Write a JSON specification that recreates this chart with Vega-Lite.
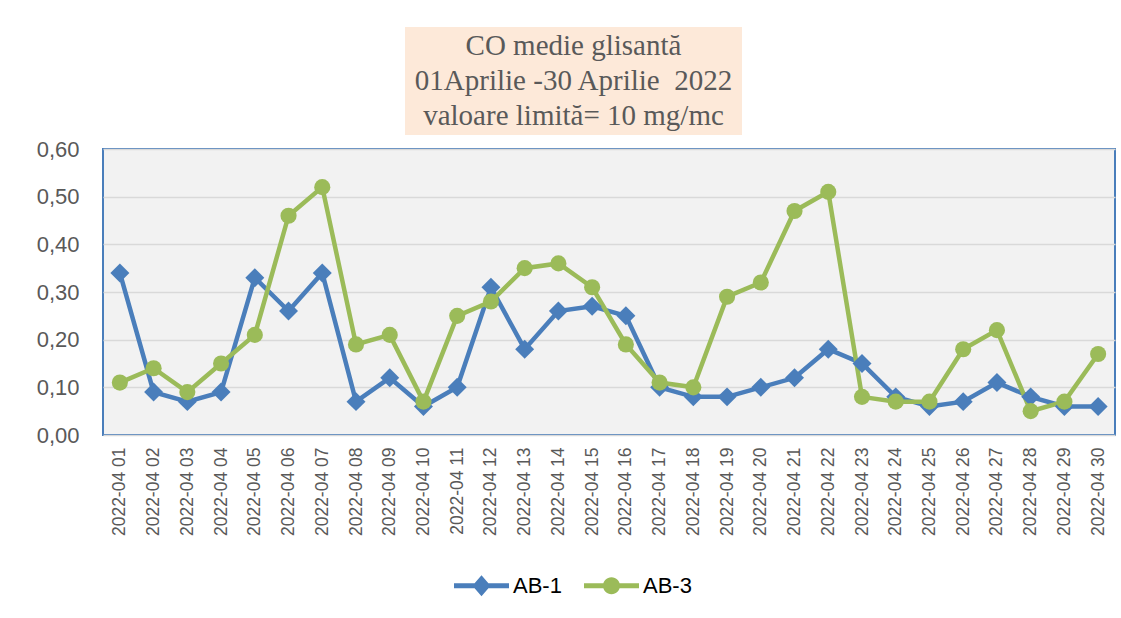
{
  "$schema": "https://vega.github.io/schema/vega-lite/v6.json",
  "background": "white",
  "padding": {"left": 35, "top": 27, "right": 5, "bottom": 5},
  "bounds": "full",
  "center": true,
  "spacing": 2,
  "config": {"font": "Liberation Sans"},
  "datasets": {
    "title": [
      {"i": 1, "t": "CO medie glisantă"},
      {"i": 2, "t": "01Aprilie -30 Aprilie\u00a0 2022"},
      {"i": 3, "t": "valoare limită= 10 mg/mc"}
    ],
    "co": [
      {"date": "2022-04 01", "series": "AB-1", "value": 0.34},
      {"date": "2022-04 02", "series": "AB-1", "value": 0.09},
      {"date": "2022-04 03", "series": "AB-1", "value": 0.07},
      {"date": "2022-04 04", "series": "AB-1", "value": 0.09},
      {"date": "2022-04 05", "series": "AB-1", "value": 0.33},
      {"date": "2022-04 06", "series": "AB-1", "value": 0.26},
      {"date": "2022-04 07", "series": "AB-1", "value": 0.34},
      {"date": "2022-04 08", "series": "AB-1", "value": 0.07},
      {"date": "2022-04 09", "series": "AB-1", "value": 0.12},
      {"date": "2022-04 10", "series": "AB-1", "value": 0.06},
      {"date": "2022-04 11", "series": "AB-1", "value": 0.10},
      {"date": "2022-04 12", "series": "AB-1", "value": 0.31},
      {"date": "2022-04 13", "series": "AB-1", "value": 0.18},
      {"date": "2022-04 14", "series": "AB-1", "value": 0.26},
      {"date": "2022-04 15", "series": "AB-1", "value": 0.27},
      {"date": "2022-04 16", "series": "AB-1", "value": 0.25},
      {"date": "2022-04 17", "series": "AB-1", "value": 0.10},
      {"date": "2022-04 18", "series": "AB-1", "value": 0.08},
      {"date": "2022-04 19", "series": "AB-1", "value": 0.08},
      {"date": "2022-04 20", "series": "AB-1", "value": 0.10},
      {"date": "2022-04 21", "series": "AB-1", "value": 0.12},
      {"date": "2022-04 22", "series": "AB-1", "value": 0.18},
      {"date": "2022-04 23", "series": "AB-1", "value": 0.15},
      {"date": "2022-04 24", "series": "AB-1", "value": 0.08},
      {"date": "2022-04 25", "series": "AB-1", "value": 0.06},
      {"date": "2022-04 26", "series": "AB-1", "value": 0.07},
      {"date": "2022-04 27", "series": "AB-1", "value": 0.11},
      {"date": "2022-04 28", "series": "AB-1", "value": 0.08},
      {"date": "2022-04 29", "series": "AB-1", "value": 0.06},
      {"date": "2022-04 30", "series": "AB-1", "value": 0.06},
      {"date": "2022-04 01", "series": "AB-3", "value": 0.11},
      {"date": "2022-04 02", "series": "AB-3", "value": 0.14},
      {"date": "2022-04 03", "series": "AB-3", "value": 0.09},
      {"date": "2022-04 04", "series": "AB-3", "value": 0.15},
      {"date": "2022-04 05", "series": "AB-3", "value": 0.21},
      {"date": "2022-04 06", "series": "AB-3", "value": 0.46},
      {"date": "2022-04 07", "series": "AB-3", "value": 0.52},
      {"date": "2022-04 08", "series": "AB-3", "value": 0.19},
      {"date": "2022-04 09", "series": "AB-3", "value": 0.21},
      {"date": "2022-04 10", "series": "AB-3", "value": 0.07},
      {"date": "2022-04 11", "series": "AB-3", "value": 0.25},
      {"date": "2022-04 12", "series": "AB-3", "value": 0.28},
      {"date": "2022-04 13", "series": "AB-3", "value": 0.35},
      {"date": "2022-04 14", "series": "AB-3", "value": 0.36},
      {"date": "2022-04 15", "series": "AB-3", "value": 0.31},
      {"date": "2022-04 16", "series": "AB-3", "value": 0.19},
      {"date": "2022-04 17", "series": "AB-3", "value": 0.11},
      {"date": "2022-04 18", "series": "AB-3", "value": 0.10},
      {"date": "2022-04 19", "series": "AB-3", "value": 0.29},
      {"date": "2022-04 20", "series": "AB-3", "value": 0.32},
      {"date": "2022-04 21", "series": "AB-3", "value": 0.47},
      {"date": "2022-04 22", "series": "AB-3", "value": 0.51},
      {"date": "2022-04 23", "series": "AB-3", "value": 0.08},
      {"date": "2022-04 24", "series": "AB-3", "value": 0.07},
      {"date": "2022-04 25", "series": "AB-3", "value": 0.07},
      {"date": "2022-04 26", "series": "AB-3", "value": 0.18},
      {"date": "2022-04 27", "series": "AB-3", "value": 0.22},
      {"date": "2022-04 28", "series": "AB-3", "value": 0.05},
      {"date": "2022-04 29", "series": "AB-3", "value": 0.07},
      {"date": "2022-04 30", "series": "AB-3", "value": 0.17}
    ]
  },
  "vconcat": [
    {
      "width": 337,
      "height": 108,
      "view": {"fill": "#FDE9D9", "stroke": null},
      "data": {"name": "title"},
      "mark": {"type": "text", "font": "Liberation Serif", "fontSize": 29, "color": "#595959"},
      "encoding": {
        "y": {"field": "i", "type": "ordinal", "title": null, "scale": {"type": "point", "padding": 0.54},
          "axis": {"orient": "right", "labels": false, "domain": false, "grid": false, "ticks": true, "tickSize": 72, "tickOpacity": 0}},
        "text": {"field": "t"}
      }
    },
    {
      "width": 1012,
      "height": 286,
      "view": {"fill": "#F2F2F2", "stroke": "#4A7EBB", "strokeWidth": 2},
      "data": {"name": "co"},
      "encoding": {
        "x": {
          "field": "date", "type": "ordinal", "title": null,
          "axis": {"labelAngle": -90, "labelFontSize": 17.5, "labelColor": "#595959", "labelPadding": 12, "ticks": false, "domain": false, "grid": false}
        },
        "y": {
          "field": "value", "type": "quantitative", "title": null,
          "scale": {"domain": [0, 0.6]},
          "axis": {"values": [0, 0.1, 0.2, 0.3, 0.4, 0.5, 0.6], "labelExpr": "replace(format(datum.value, '.2f'), '.', ',')", "labelFontSize": 22, "labelColor": "#595959", "labelPadding": 24, "ticks": false, "domain": false, "grid": true, "gridColor": "#D9D9D9", "gridWidth": 1.5}
        },
        "color": {
          "field": "series", "type": "nominal",
          "scale": {"domain": ["AB-1", "AB-3"], "range": ["#4A7EBB", "#9BBB59"]},
          "legend": {
            "title": null, "orient": "none", "legendX": 351, "legendY": 531, "direction": "horizontal",
            "symbolSize": 3025, "symbolStrokeWidth": 0, "labelFontSize": 22, "labelColor": "#000000", "labelOffset": 4, "columnPadding": 22,
            "encode": {"symbols": {"update": {
              "shape": {"signal": "datum.value === 'AB-1' ? 'M-1,-0.09H1V0.09H-1Z M-0.33,0L0,-0.38L0.33,0L0,0.38Z' : 'M-1,-0.09H1V0.09H-1Z M-0.31,0A0.31,0.31 0 1,1 0.31,0A0.31,0.31 0 1,1 -0.31,0Z'"},
              "fill": {"signal": "datum.value === 'AB-1' ? '#4A7EBB' : '#9BBB59'"},
              "strokeWidth": {"value": 0}
            }}}
          }
        }
      },
      "layer": [
        {"mark": {"type": "line", "strokeWidth": 4.5}},
        {
          "transform": [{"filter": "datum.series === 'AB-1'"}],
          "mark": {"type": "point", "filled": true, "opacity": 1, "shape": "diamond", "size": 360}
        },
        {
          "transform": [{"filter": "datum.series === 'AB-3'"}],
          "mark": {"type": "point", "filled": true, "opacity": 1, "shape": "circle", "size": 260}
        }
      ]
    }
  ]
}
